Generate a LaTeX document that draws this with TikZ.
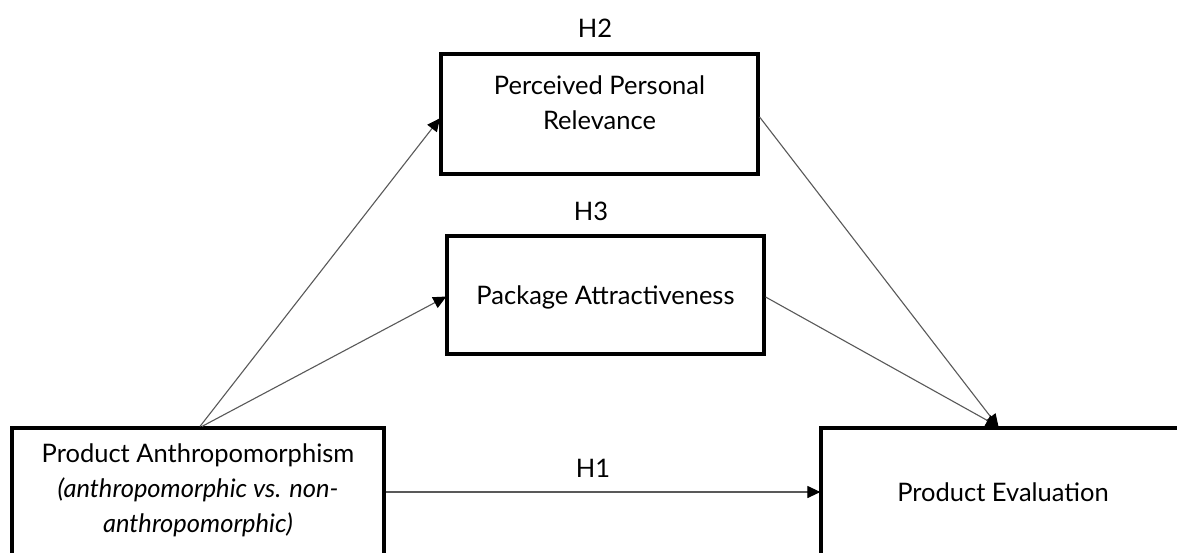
\documentclass[tikz,border=0pt]{standalone}
\usepackage{fontspec}
\setmainfont{Lato}
\usetikzlibrary{arrows.meta}
\begin{document}
\begin{tikzpicture}[x=1pt,y=1pt,
  box/.style={draw=black, line width=3.2pt, rectangle, inner sep=0pt},
  lbl/.style={font=\fontsize{25.5}{35}\selectfont, align=center, inner sep=0pt},
  conn/.style={draw=black!65, line width=1.1pt, -{Triangle[length=13pt,width=12pt,color=black,fill=black]}, shorten >=-1pt}
]
\useasboundingbox (0,0) rectangle (1177,-552);
\fill[white] (0,0) rectangle (1177,-552);
% boxes
\node[box, minimum width=372, minimum height=128] (pa) at (198,-492) {};
\node[box, minimum width=364, minimum height=128] (pe) at (1003,-492) {};
\node[box, minimum width=317, minimum height=120] (ppr) at (599.5,-114) {};
\node[box, minimum width=317, minimum height=118] (pat) at (605.5,-295) {};
% texts
\node[lbl] (tpa) at (198,-490) {Product Anthropomorphism\\\textit{(anthropomorphic vs. non-}\\\textit{anthropomorphic)}};
\node[lbl] (tpe) at (1003,-492) {Product Evaluation};
\node[lbl] (tppr) at (599.5,-103) {Perceived Personal\\Relevance};
\node[lbl] (tpat) at (605.5,-297) {Package Attractiveness};
\node[lbl] (h2) at (595,-28) {H2};
\node[lbl] (h3) at (591,-211) {H3};
\node[lbl] (h1) at (593,-468) {H1};
% connectors
\draw[conn] ([xshift=2]pa.north) -- ([yshift=-5]ppr.west);
\draw[conn] ([xshift=4]pa.north) -- ([yshift=-2]pat.west);
\draw[conn] ([yshift=-3]ppr.east) -- ([xshift=-5]pe.north);
\draw[conn] ([yshift=-2]pat.east) -- ([xshift=-5]pe.north);
\draw[conn] (pa.east) -- (pe.west);
\end{tikzpicture}
\end{document}
